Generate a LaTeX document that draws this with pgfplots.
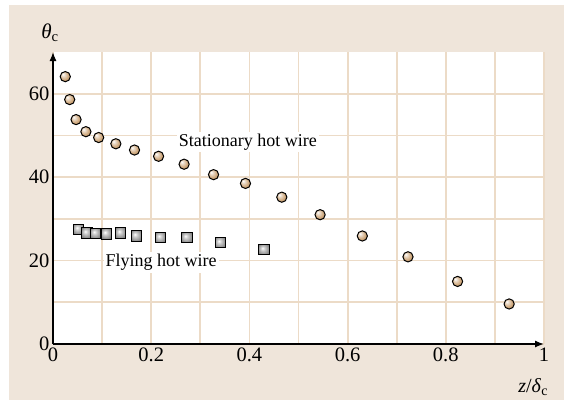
\documentclass[border=0pt]{standalone}
\usepackage{pgfplots}
\pgfplotsset{compat=1.18}
\usepackage{fontspec}
\setmainfont{Liberation Serif}
\usetikzlibrary{arrows.meta}
\definecolor{bgbeige}{RGB}{239,229,218}
\definecolor{gridtan}{RGB}{236,219,199}
\definecolor{balltan}{RGB}{205,165,120}
\pgfdeclareradialshading{tanball}{\pgfpoint{-12bp}{12bp}}{color(0bp)=(white); color(8bp)=(balltan!40!white); color(22bp)=(balltan); color(40bp)=(balltan!75!black); color(50bp)=(balltan!55!black)}
\pgfdeclareradialshading{grayball}{\pgfpoint{-8bp}{8bp}}{color(0bp)=(white); color(10bp)=(gray!40); color(30bp)=(gray); color(50bp)=(black!75)}
\pgfdeclareplotmark{tanball}{%
  \pgfpathcircle{\pgfpointorigin}{\pgfplotmarksize}%
  \pgfshadepath{tanball}{0}%
  \pgfpathcircle{\pgfpointorigin}{\pgfplotmarksize}%
  \pgfusepathqstroke}
\pgfdeclareplotmark{graysq}{%
  \pgfpathrectangle{\pgfpoint{-\pgfplotmarksize}{-\pgfplotmarksize}}{\pgfpoint{2\pgfplotmarksize}{2\pgfplotmarksize}}%
  \pgfshadepath{grayball}{0}%
  \pgfpathrectangle{\pgfpoint{-\pgfplotmarksize}{-\pgfplotmarksize}}{\pgfpoint{2\pgfplotmarksize}{2\pgfplotmarksize}}%
  \pgfusepathqstroke}

\pgfplotstableread{
x y
0.025 64.1
0.034 58.6
0.047 53.8
0.067 50.9
0.093 49.5
0.128 48.0
0.166 46.5
0.215 45.0
0.267 43.1
0.327 40.6
0.392 38.5
0.466 35.2
0.544 31.0
0.630 25.9
0.723 20.9
0.824 15.0
0.929 9.6
}\stationary
\pgfplotstableread{
x y
0.052 27.5
0.069 26.6
0.087 26.5
0.109 26.4
0.138 26.6
0.170 25.9
0.219 25.5
0.273 25.5
0.341 24.3
0.430 22.6
}\flying

\begin{document}
\begin{tikzpicture}
\path[use as bounding box] (-53pt,-56pt) rectangle (511pt,344pt);
\fill[bgbeige] (-44pt,-56pt) rectangle (511pt,339pt);
\begin{axis}[
  scale only axis, width=491pt, height=292pt,
  xmin=0, xmax=1, ymin=0, ymax=70,
  axis lines=left,
  axis line style={line width=1.3pt, -{Latex[length=9pt,width=7pt]}},
  xtick={0,0.2,0.4,0.6,0.8,1},
  xticklabels={0,0.2,0.4,0.6,0.8,1},
  minor xtick={0.1,0.3,0.5,0.7,0.9},
  ytick={0,20,40,60},
  minor ytick={10,30,50},
  grid=both,
  grid style={gridtan, line width=1.8pt},
  major grid style={gridtan, line width=1.8pt},
  minor grid style={gridtan, line width=1.8pt},
  major tick length=0pt, minor tick length=0pt,
  axis background/.style={fill=white},
  tick label style={font=\fontsize{20.5}{22}\selectfont},
  /pgf/number format/assume math mode=true,
  ylabel={\textit{θ}\textsubscript{c}},
  ylabel style={rotate=-90, at={(axis description cs:-0.006,1.065)}, anchor=center, font=\fontsize{21}{22}\selectfont},
  xlabel={\textit{z}/\textit{δ}\textsubscript{c}},
  xlabel style={at={(axis description cs:0.978,-0.147)}, anchor=center, font=\fontsize{20}{22}\selectfont},
  clip=false,
]
\node[fill=white, inner sep=2pt, font=\fontsize{18}{20}\selectfont] at (axis cs:0.397,48.4) {Stationary hot wire};
\node[fill=white, inner sep=2pt, font=\fontsize{18}{20}\selectfont] at (axis cs:0.22,19.5) {Flying hot wire};
\addplot[only marks, black, mark=tanball, mark size=5.1pt, mark options={draw=black, line width=1pt}] table[x=x,y=y] {\stationary};
\addplot[only marks, black, mark=graysq, mark size=5.2pt, mark options={draw=black, line width=1pt}] table[x=x,y=y] {\flying};
\end{axis}
\end{tikzpicture}
\end{document}
